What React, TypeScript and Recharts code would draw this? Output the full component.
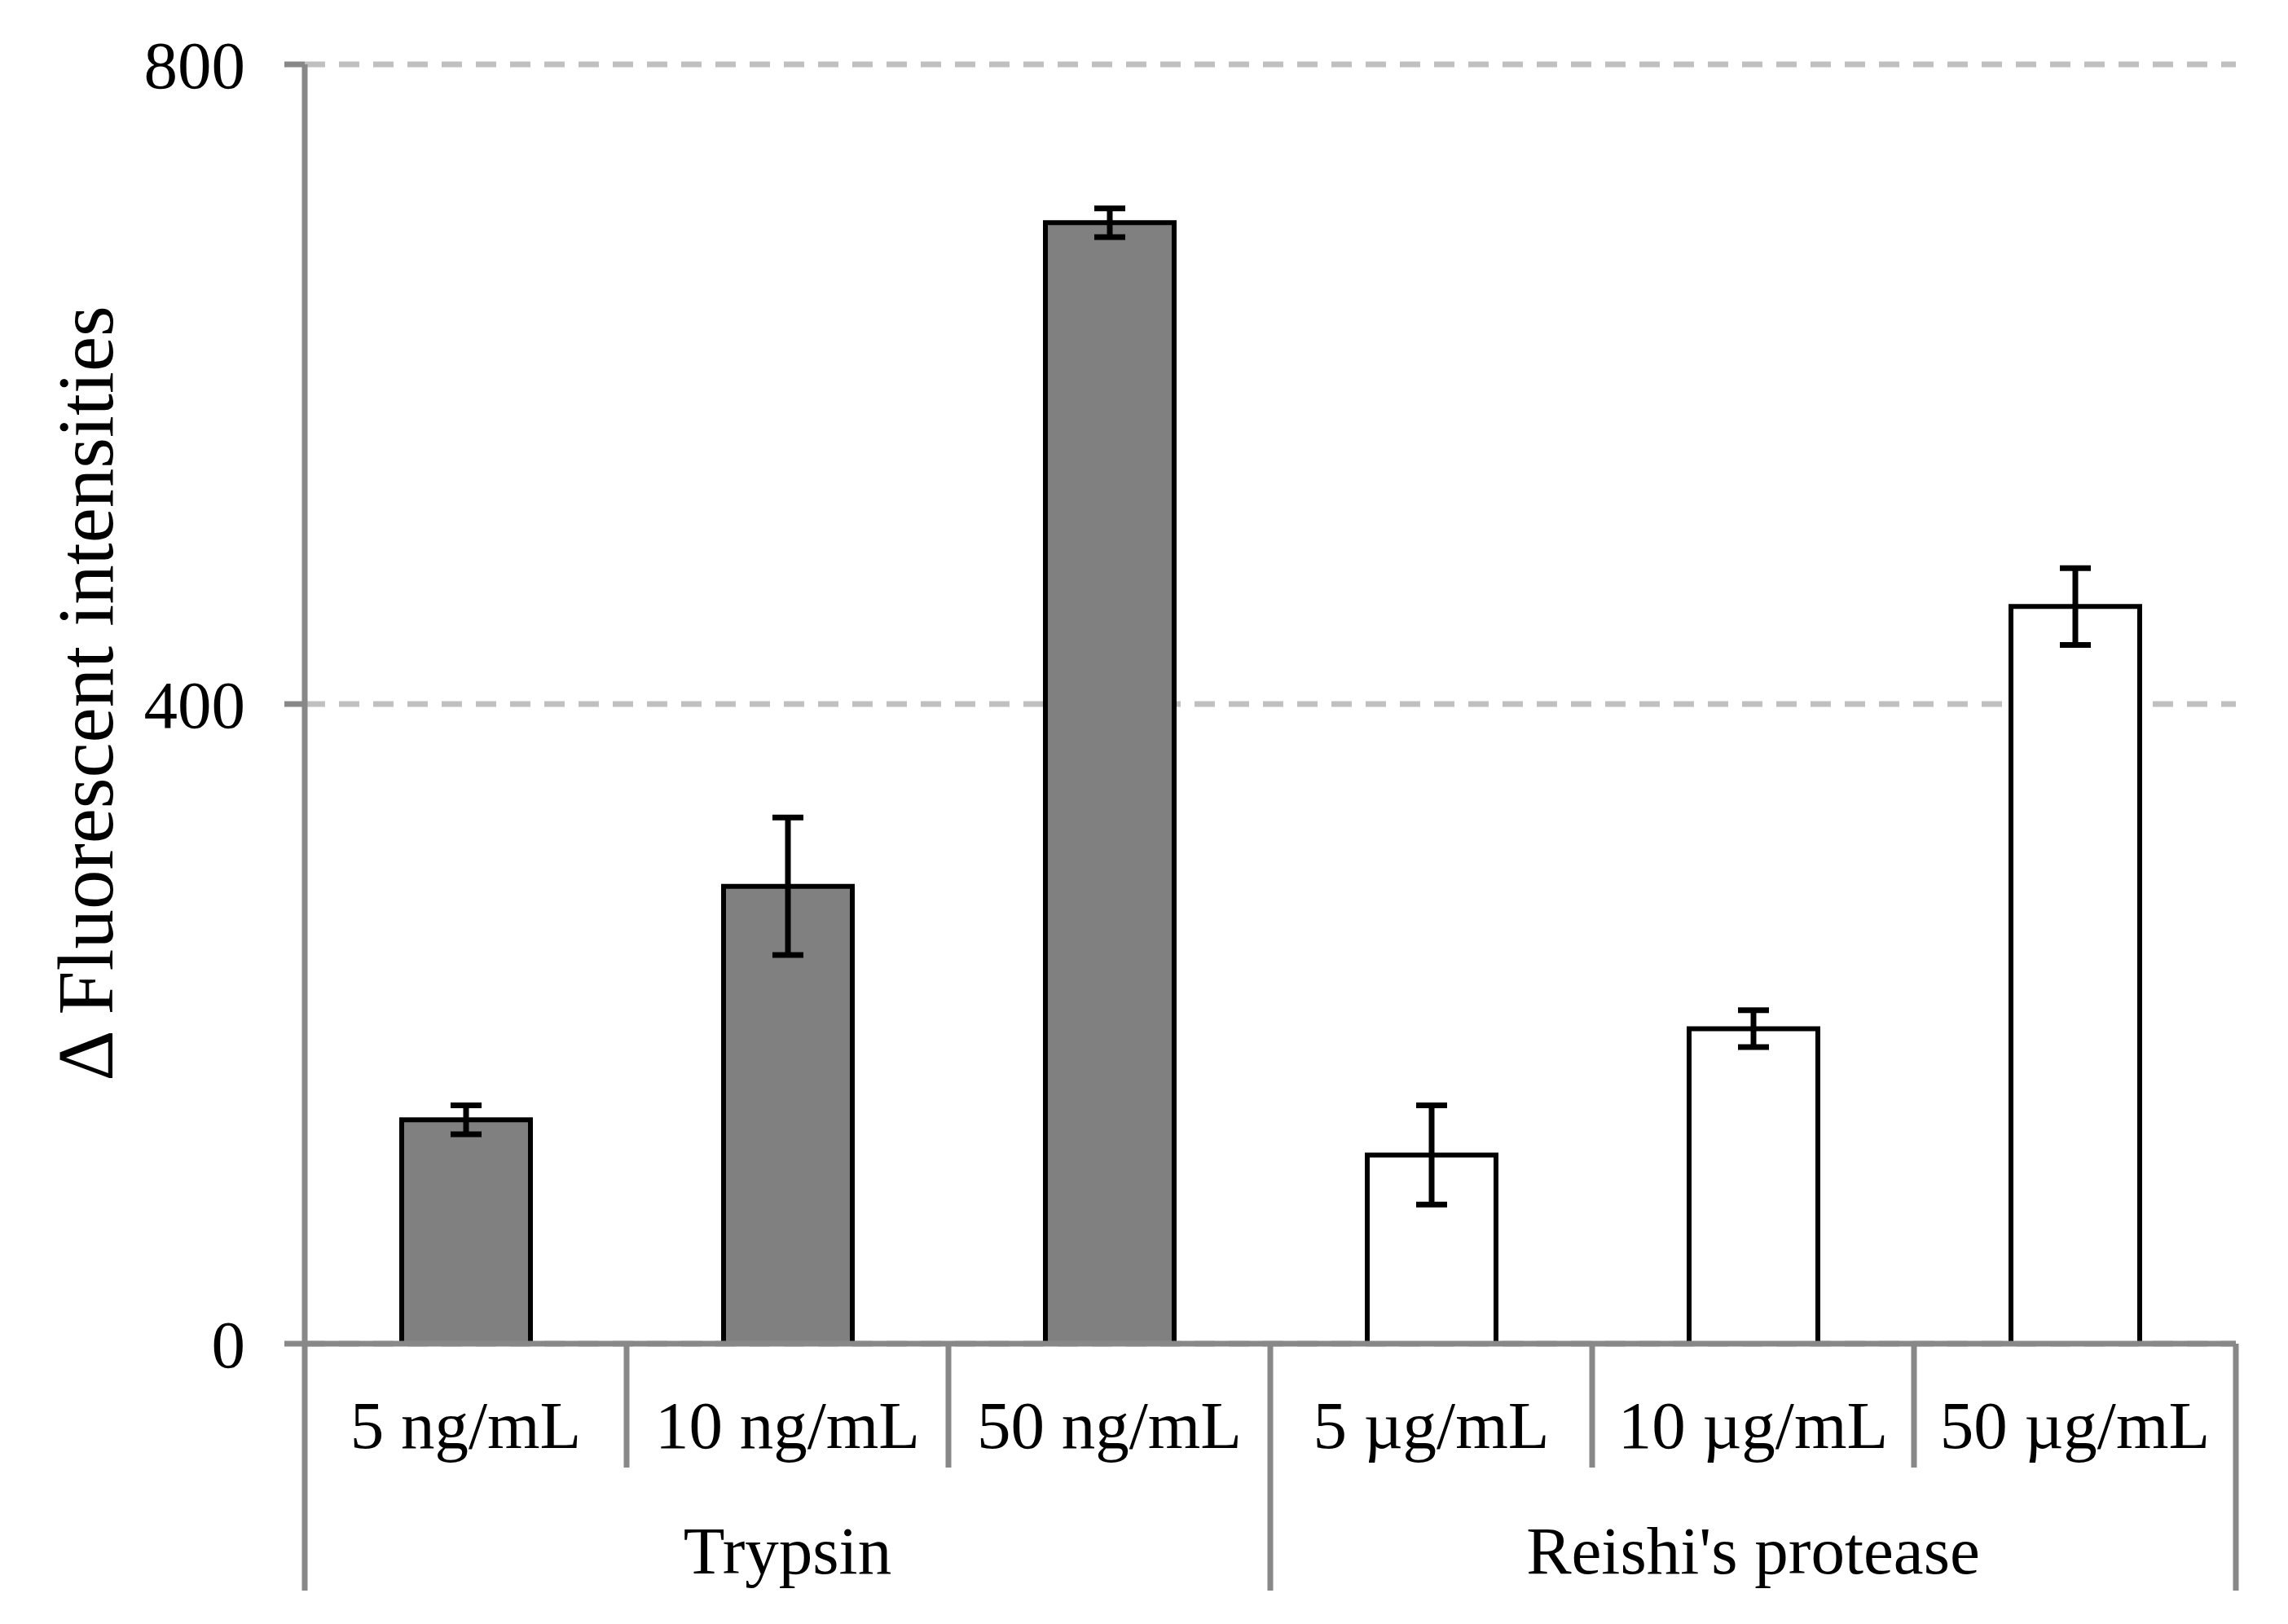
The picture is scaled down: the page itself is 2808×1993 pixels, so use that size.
import React from "react";
import {
  Bar,
  BarChart,
  CartesianGrid,
  Cell,
  ErrorBar,
  XAxis,
  YAxis,
} from "recharts";

const doses = ["5 ng/mL", "10 ng/mL", "50 ng/mL", "5 µg/mL", "10 µg/mL", "50 µg/mL"];
const groups = ["Trypsin", "Trypsin", "Trypsin", "Reishi's protease", "Reishi's protease", "Reishi's protease"];
const means = [140, 286, 701, 118, 197, 461];
const errors = [9, 43, 9, 31, 11.5, 24];
const yTicks = [0, 400, 800];

const data = doses.map((dose, i) => ({
  dose,
  group: groups[i],
  mean: means[i],
  err: errors[i],
}));

const W = 2808;
const H = 1993;
const MARGIN = { top: 79, right: 64, bottom: 0, left: 0 };
const Y_AXIS_W = 374;
const X_AXIS_H = 344;
const PLOT_W = W - MARGIN.left - MARGIN.right - Y_AXIS_W;
const PER_GROUP = 3;

const FONT = "'Liberation Serif', 'Times New Roman', serif";
const AXIS_GRAY = "#888888";
const GROUP_FILL: Record<string, string> = {
  Trypsin: "#808080",
  "Reishi's protease": "#FFFFFF",
};

function DoseTick(props: any) {
  const { x, y, payload, index } = props;
  const band = PLOT_W / doses.length;
  const left = x - band / 2;
  const right = x + band / 2;
  const groupStart = index % PER_GROUP === 0;
  return (
    <g>
      <line
        x1={left}
        x2={left}
        y1={y}
        y2={y + (groupStart ? 303 : 152)}
        stroke={AXIS_GRAY}
        strokeWidth={7}
      />
      {index === doses.length - 1 && (
        <line x1={right} x2={right} y1={y} y2={y + 303} stroke={AXIS_GRAY} strokeWidth={7} />
      )}
      <text x={x} y={y + 128} textAnchor="middle" fontFamily={FONT} fontSize={83} fill="#000">
        {payload.value}
      </text>
      {index % PER_GROUP === 1 && (
        <text x={x} y={y + 282} textAnchor="middle" fontFamily={FONT} fontSize={83} fill="#000">
          {groups[index]}
        </text>
      )}
    </g>
  );
}

function YTitle(props: any) {
  const vb = props.viewBox || { x: 0, y: 0, width: 0, height: 0 };
  const cx = 138;
  const cy = vb.y + vb.height / 2 - 13;
  return (
    <text
      x={cx}
      y={cy}
      transform={`rotate(-90 ${cx} ${cy})`}
      textAnchor="middle"
      fontFamily={FONT}
      fontSize={97}
      fill="#000"
    >
      Δ Fluorescent intensities
    </text>
  );
}

export default function App() {
  return (
    <div style={{ position: "absolute", left: 0, top: 0, background: "#fff" }}>
      <BarChart width={W} height={H} data={data} margin={MARGIN}>
        <CartesianGrid
          vertical={false}
          stroke="#C0C0C0"
          strokeWidth={7}
          strokeDasharray="25 17"
        />
        <Bar
          dataKey="mean"
          barSize={158}
          stroke="#000"
          strokeWidth={6}
          isAnimationActive={false}
        >
          {data.map((d) => (
            <Cell key={d.dose} fill={GROUP_FILL[d.group]} />
          ))}
          <ErrorBar dataKey="err" width={19} stroke="#000" strokeWidth={7} />
        </Bar>
        <XAxis
          dataKey="dose"
          height={X_AXIS_H}
          interval={0}
          tickSize={0}
          tickMargin={0}
          tickLine={false}
          axisLine={{ stroke: AXIS_GRAY, strokeWidth: 7 }}
          tick={<DoseTick />}
        />
        <YAxis
          width={Y_AXIS_W}
          domain={[0, 800]}
          ticks={yTicks}
          tickSize={25}
          tickMargin={48}
          axisLine={{ stroke: AXIS_GRAY, strokeWidth: 7 }}
          tickLine={{ stroke: AXIS_GRAY, strokeWidth: 7 }}
          tick={{ fontFamily: FONT, fontSize: 83, fill: "#000" }}
          label={<YTitle />}
        />
      </BarChart>
    </div>
  );
}
